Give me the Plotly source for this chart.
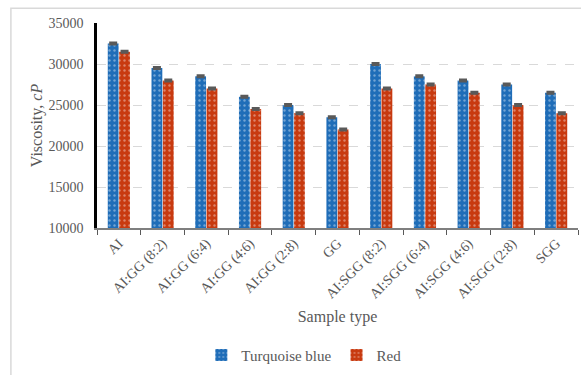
import plotly.graph_objects as go

samples = ["AI", "AI:GG (8:2)", "AI:GG (6:4)", "AI:GG (4:6)", "AI:GG (2:8)", "GG",
           "AI:SGG (8:2)", "AI:SGG (6:4)", "AI:SGG (4:6)", "AI:SGG (2:8)", "SGG"]
turquoise_blue = [32500, 29500, 28500, 26000, 25000, 23500, 30000, 28500, 28000, 27500, 26500]
red = [31500, 28000, 27000, 24500, 24000, 22000, 27000, 27500, 26500, 25000, 24000]
err = [120] * len(samples)

FONT = "Liberation Serif"
GRAY = "#595959"

def bar(name, values, color):
    return go.Bar(
        name=name, x=samples, y=values,
        marker=dict(color=color, line=dict(width=0),
                    pattern=dict(shape=".", fgcolor="rgba(255,255,255,0.75)",
                                 bgcolor=color, size=5, solidity=0.18)),
        error_y=dict(type="data", array=err, visible=True, color=GRAY,
                     thickness=2, width=4),
    )

fig = go.Figure([bar("Turquoise blue", turquoise_blue, "#1F6DB8"),
                 bar("Red", red, "#C83A10")])

fig.update_layout(
    width=581, height=375,
    margin=dict(l=97, r=3, t=23, b=144),
    paper_bgcolor="white", plot_bgcolor="white",
    barmode="group", bargap=0.48, bargroupgap=0.05,
    font=dict(family=FONT, color=GRAY, size=14),
    showlegend=True,
    legend=dict(orientation="h", x=0.43, xanchor="center", y=-0.54, yanchor="top",
                font=dict(family=FONT, size=15, color=GRAY), itemwidth=30,
                traceorder="normal"),
    xaxis=dict(
        type="category", tickangle=-45, tickfont=dict(family=FONT, size=14, color=GRAY),
        automargin=False,
        showline=True, linecolor="#7F7F7F", linewidth=1.5,
        ticks="outside", tickson="boundaries", ticklen=5, tickcolor=GRAY,
        title=dict(text="Sample type", font=dict(family=FONT, size=16, color=GRAY), standoff=10),
        showgrid=False,
    ),
    yaxis=dict(
        range=[10000, 35000], dtick=5000, tickformat="d",
        tickfont=dict(family=FONT, size=14, color=GRAY), automargin=False,
        ticklabelstandoff=8,
        showline=True, linecolor="black", linewidth=2.5,
        gridcolor="#D9D9D9", griddash="dash", gridwidth=1,
        zeroline=False, ticks="",
        title=dict(text="Viscosity, <i>cP</i>", font=dict(family=FONT, size=16, color=GRAY),
                   standoff=2),
    ),
    shapes=[dict(type="rect", xref="paper", yref="paper",
                 x0=-0.179, x1=1.05, y0=-0.75, y1=1.072,
                 line=dict(color="#D9D9D9", width=1.5), layer="below")],
)

fig.write_html("out.html")
